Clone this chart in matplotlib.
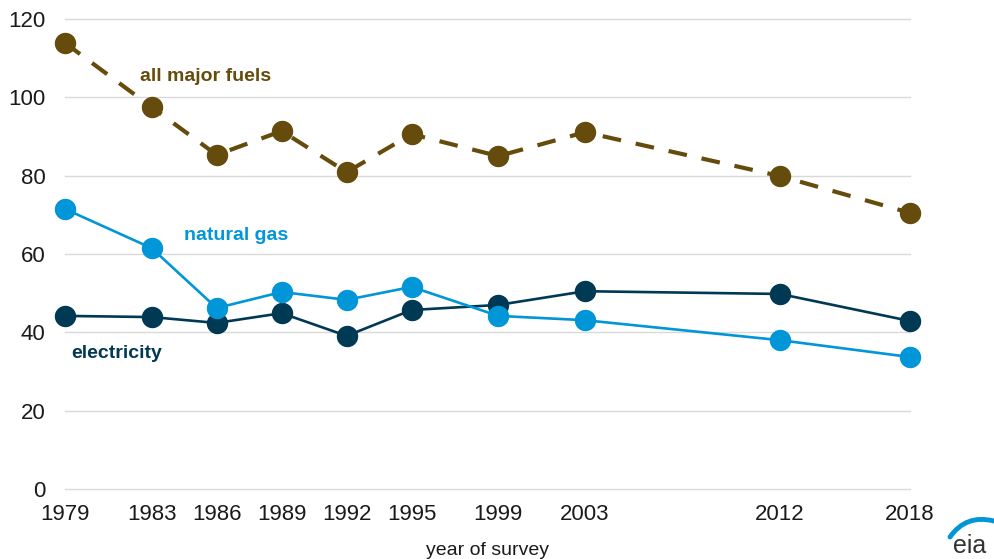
import numpy as np
import matplotlib.pyplot as plt
from matplotlib.patches import PathPatch
from matplotlib.path import Path

plt.rcParams['font.family'] = ['Liberation Sans', 'DejaVu Sans']

years = [1979, 1983, 1986, 1989, 1992, 1995, 1999, 2003, 2012, 2018]
all_fuels = [113.9, 97.5, 85.3, 91.4, 80.9, 90.6, 85.0, 91.1, 79.9, 70.5]
natural_gas = [71.5, 61.5, 46.2, 50.3, 48.3, 51.6, 44.2, 43.1, 38.0, 33.7]
electricity = [44.2, 43.9, 42.4, 44.9, 39.1, 45.7, 47.0, 50.5, 49.8, 42.9]

brown = '#654c0c'
blue = '#0096d7'
navy = '#003953'

W, H = 995, 559
fig = plt.figure(figsize=(W / 100, H / 100), dpi=100)
ax = fig.add_axes([0.0653, 0.1252, 0.8493, 0.8408])

ms = 14.4
ax.plot(years, all_fuels, color=brown, lw=3, ls=(0, (4.5, 3.6)), marker='o',
        ms=ms, clip_on=False, zorder=3)
ax.plot(years, electricity, color=navy, lw=1.9, marker='o', ms=ms,
        clip_on=False, zorder=4)
ax.plot(years, natural_gas, color=blue, lw=1.9, marker='o', ms=ms,
        clip_on=False, zorder=5)

ax.text(1985.5, 105.2, 'all major fuels', color=brown, fontsize=14, fontweight='bold',
        ha='center', va='center')
ax.text(1986.9, 64.6, 'natural gas', color=blue, fontsize=14, fontweight='bold',
        ha='center', va='center')
ax.text(1981.4, 34.5, 'electricity', color=navy, fontsize=14, fontweight='bold',
        ha='center', va='center')

ax.set_xlim(1979, 2018)
ax.set_ylim(0, 120)
ax.set_yticks(range(0, 121, 20))
ax.set_xticks(years)
ax.grid(axis='y', color='#d9d9d9', lw=1, clip_on=False)
ax.set_axisbelow(True)
for s in ax.spines.values():
    s.set_visible(False)
ax.tick_params(length=0, labelsize=16, colors='#1a1a1a', pad=11)
ax.tick_params(axis='y', pad=14)
ax.set_xlabel('year of survey', fontsize=14, color='#1a1a1a', labelpad=12)

# eia logo
fig.text(970 / W, 1 - 553 / H, 'eia', fontsize=18, color='#333333',
         ha='center', va='baseline')
swoosh = Path([(950 / W, 1 - 537 / H), (966 / W, 1 - 514 / H), (994 / W, 1 - 521 / H)],
              [Path.MOVETO, Path.CURVE3, Path.CURVE3])
fig.patches.append(PathPatch(swoosh, transform=fig.transFigure, fill=False,
                             edgecolor=blue, lw=3.5, capstyle='round'))

fig.savefig('out.png', dpi=100)
